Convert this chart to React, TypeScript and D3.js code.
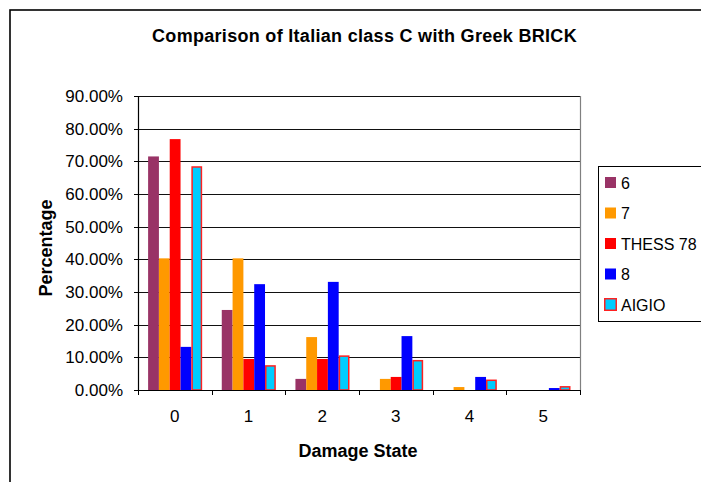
import React from "react";
import * as d3 from "d3";

// Damage states on the x axis
const categories = ["0", "1", "2", "3", "4", "5"];

// Series names, in legend order
const seriesNames = ["6", "7", "THESS 78", "8", "AIGIO"];

// Fraction of buildings per damage state (0..1)
const s6 = [0.715, 0.245, 0.034, 0, 0, 0];
const s7 = [0.403, 0.403, 0.162, 0.034, 0.009, 0];
const sThess78 = [0.768, 0.095, 0.095, 0.04, 0, 0];
const s8 = [0.132, 0.324, 0.331, 0.165, 0.04, 0.006];
const sAigio = [0.685, 0.076, 0.106, 0.092, 0.032, 0.012];

const seriesValues = [s6, s7, sThess78, s8, sAigio];

const yTicks = [0, 0.1, 0.2, 0.3, 0.4, 0.5, 0.6, 0.7, 0.8, 0.9];

const fills = ["#993366", "#FF9900", "#FF0000", "#0000FF", "#00CCFF"];
const strokes = ["none", "none", "none", "none", "#FF2020"];

const W = 701;
const H = 482;
const plot = { left: 138, right: 580, top: 96, bottom: 390 };
const FONT = "'Liberation Sans', Arial, Helvetica, sans-serif";

export default function App() {
  const x0 = d3
    .scaleBand<string>()
    .domain(categories)
    .range([plot.left, plot.right])
    .padding(0);
  const catW = x0.bandwidth();
  const gap = 19.6;
  const x1 = d3
    .scaleBand<string>()
    .domain(seriesNames)
    .range([gap / 2 + 0.3, catW - gap / 2 + 0.3])
    .padding(0);
  const y = d3.scaleLinear().domain([0, 0.9]).range([plot.bottom, plot.top]);
  const fmt = d3.format(".2%");

  const legendY0 = 182.5;
  const legendStep = 30.5;

  return (
    <svg
      width={W}
      height={H}
      viewBox={`0 0 ${W} ${H}`}
      style={{ position: "absolute", left: 0, top: 0, background: "#fff" }}
      fontFamily={FONT}
    >
      <rect x={0} y={0} width={W} height={H} fill="#fff" />
      {/* chart frame */}
      <rect x={10} y={10} width={W + 20} height={H + 20} fill="none" stroke="#000" strokeWidth={1.6} />

      {/* title */}
      <text
        x={364.5}
        y={41.5}
        textAnchor="middle"
        fontSize={18}
        fontWeight="bold"
        letterSpacing={0.3}
        fill="#000"
      >
        Comparison of Italian class C with Greek BRICK
      </text>

      {/* gridlines */}
      {yTicks.slice(1).map((t) => (
        <line
          key={"g" + t}
          x1={plot.left}
          x2={plot.right}
          y1={Math.round(y(t)) + 0.5}
          y2={Math.round(y(t)) + 0.5}
          stroke="#111"
          strokeWidth={1.1}
        />
      ))}
      {/* plot-area right border */}
      <line x1={plot.right + 0.5} x2={plot.right + 0.5} y1={plot.top} y2={plot.bottom} stroke="#808080" strokeWidth={1.2} />

      {/* bars */}
      {categories.map((c, ci) => (
        <g key={"c" + c} transform={`translate(${x0(c)},0)`}>
          {seriesNames.map((s, si) => {
            const v = seriesValues[si][ci];
            if (v <= 0) return null;
            const bx = x1(s) as number;
            const bw = x1.bandwidth();
            const top = y(v);
            const hasStroke = strokes[si] !== "none";
            return (
              <rect
                key={s}
                x={hasStroke ? bx + 0.75 : bx}
                y={hasStroke ? top + 0.75 : top}
                width={hasStroke ? bw - 1.5 : bw}
                height={Math.max(0, plot.bottom - top - (hasStroke ? 0.75 : 0))}
                fill={fills[si]}
                stroke={strokes[si]}
                strokeWidth={hasStroke ? 1.5 : 0}
              />
            );
          })}
        </g>
      ))}

      {/* y axis */}
      <line x1={plot.left + 0.5} x2={plot.left + 0.5} y1={plot.top} y2={plot.bottom} stroke="#000" strokeWidth={1.2} />
      {yTicks.map((t) => (
        <g key={"yt" + t}>
          <line
            x1={plot.left - 4}
            x2={plot.left}
            y1={Math.round(y(t)) + 0.5}
            y2={Math.round(y(t)) + 0.5}
            stroke="#000"
          />
          <text x={123} y={y(t) + 6} textAnchor="end" fontSize={17} fill="#000">
            {fmt(t)}
          </text>
        </g>
      ))}

      {/* x axis */}
      <line x1={plot.left} x2={plot.right + 1} y1={plot.bottom + 0.5} y2={plot.bottom + 0.5} stroke="#000" strokeWidth={1.2} />
      {[...categories.map((c) => x0(c) as number), plot.right].map((xv, i) => (
        <line
          key={"xt" + i}
          x1={Math.round(xv) + 0.5}
          x2={Math.round(xv) + 0.5}
          y1={plot.bottom}
          y2={plot.bottom + 5}
          stroke="#000"
        />
      ))}
      {categories.map((c) => (
        <text
          key={"xl" + c}
          x={(x0(c) as number) + catW / 2}
          y={421.5}
          textAnchor="middle"
          fontSize={17}
          fill="#000"
        >
          {c}
        </text>
      ))}

      {/* axis titles */}
      <text x={358} y={457} textAnchor="middle" fontSize={18} fontWeight="bold" fill="#000">
        Damage State
      </text>
      <text
        transform={`translate(51.5,248) rotate(-90)`}
        textAnchor="middle"
        fontSize={18}
        fontWeight="bold"
        fill="#000"
      >
        Percentage
      </text>

      {/* legend */}
      <rect x={598.5} y={166.5} width={120} height={155} fill="#fff" stroke="#000" strokeWidth={1} />
      {seriesNames.map((s, i) => {
        const cy = legendY0 + i * legendStep;
        const hasStroke = strokes[i] !== "none";
        return (
          <g key={"lg" + s}>
            <rect
              x={hasStroke ? 604.75 : 605}
              y={cy - 5.5 + (hasStroke ? -0.25 : 0)}
              width={hasStroke ? 11.5 : 11}
              height={hasStroke ? 11.5 : 11}
              fill={fills[i]}
              stroke={strokes[i]}
              strokeWidth={hasStroke ? 1.5 : 0}
            />
            <text x={621} y={cy + 6} fontSize={16} fill="#000">
              {s}
            </text>
          </g>
        );
      })}
    </svg>
  );
}
